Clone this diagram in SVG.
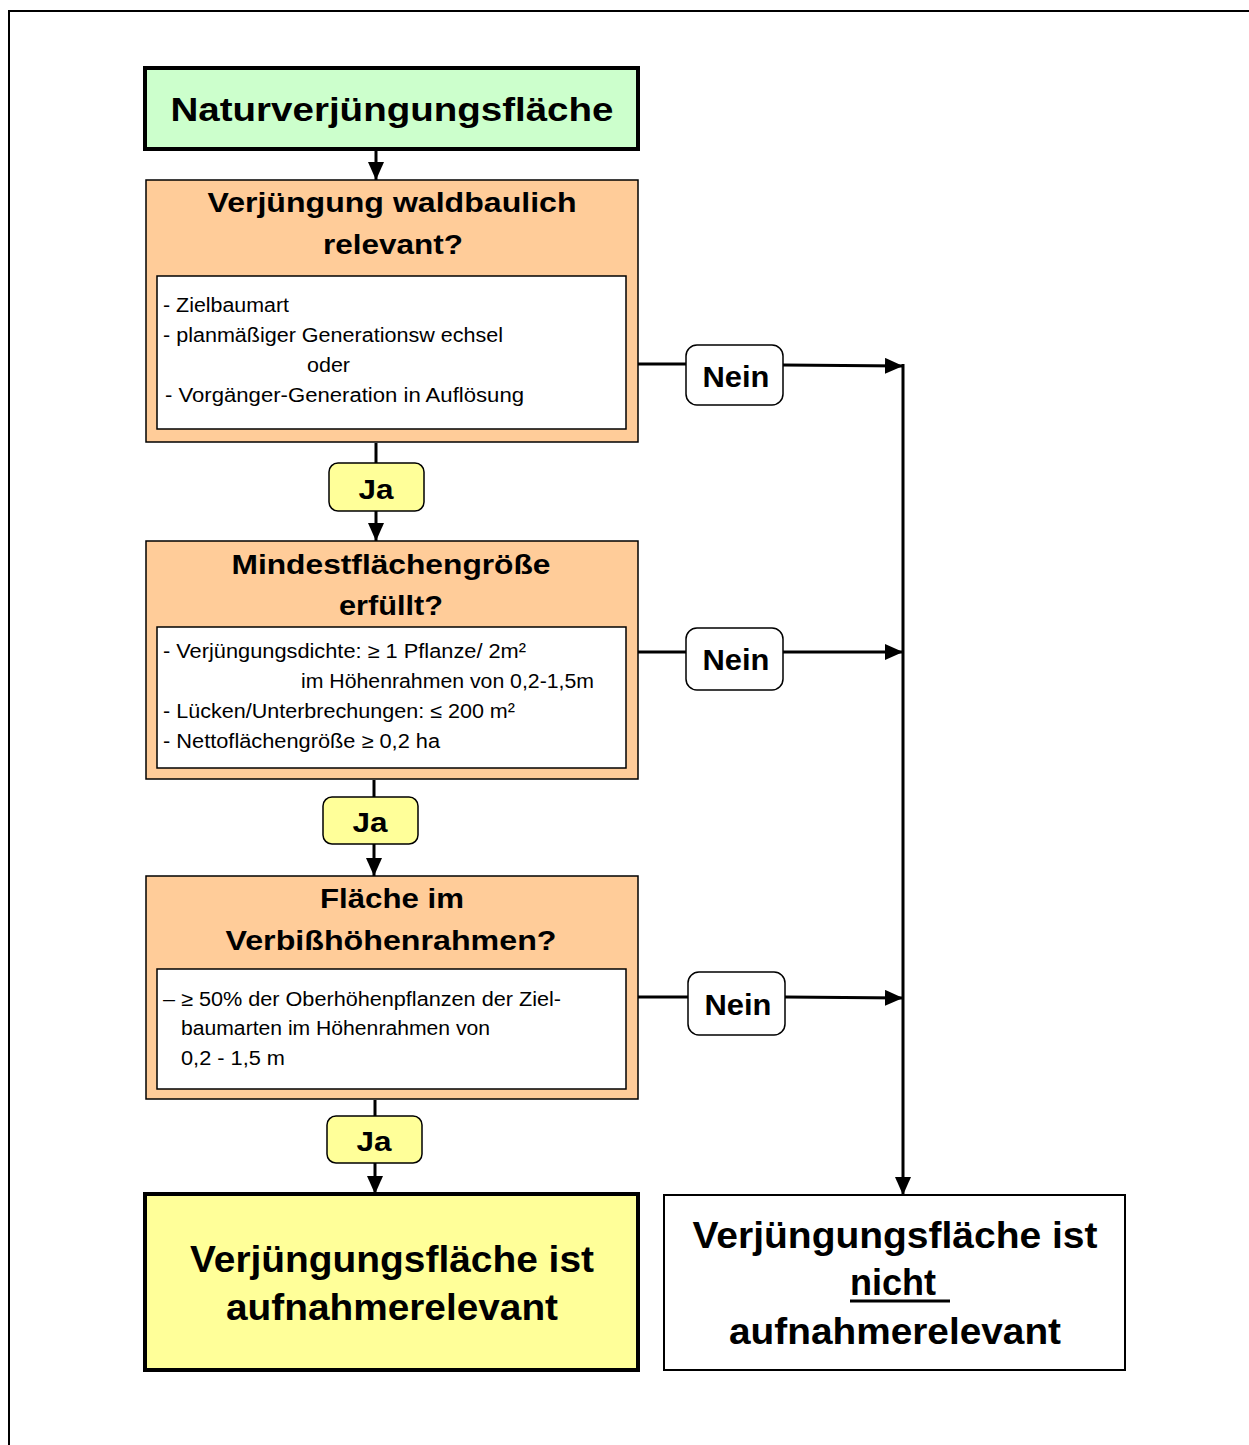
<svg xmlns="http://www.w3.org/2000/svg" width="1249" height="1445" viewBox="0 0 1249 1445">
<defs>
<marker id="ah" markerUnits="userSpaceOnUse" markerWidth="18" markerHeight="16" viewBox="0 0 18 16" refX="18" refY="8" orient="auto"><path d="M0,0 L18,8 L0,16 Z" fill="#000"/></marker>
<style>
.b{font-family:"Liberation Sans",Arial,sans-serif;font-weight:bold;fill:#000;text-anchor:middle}
.r{font-family:"Liberation Sans",Arial,sans-serif;font-size:20px;fill:#000}
.or{fill:#FFCC99;stroke:#000;stroke-width:1.5}
.in{fill:#fff;stroke:#000;stroke-width:1.5}
.ja{fill:#FFFF99;stroke:#000;stroke-width:1.5}
.nein{fill:#fff;stroke:#000;stroke-width:1.5}
.ln{stroke:#000;stroke-width:3;fill:none}
</style>
</defs>
<rect width="1249" height="1445" fill="#fff"/>
<path d="M9,1445 V11 H1249" fill="none" stroke="#000" stroke-width="2"/>

<g id="connectors">
<line class="ln" x1="376" y1="150" x2="376" y2="180" marker-end="url(#ah)"/>
<line class="ln" x1="376" y1="443" x2="376" y2="541" marker-end="url(#ah)"/>
<line class="ln" x1="374" y1="780" x2="374" y2="876" marker-end="url(#ah)"/>
<line class="ln" x1="375" y1="1100" x2="375" y2="1194" marker-end="url(#ah)"/>
<line class="ln" x1="638" y1="364" x2="686" y2="364"/>
<line class="ln" x1="783" y1="365" x2="903" y2="366" marker-end="url(#ah)"/>
<line class="ln" x1="638" y1="652" x2="686" y2="652"/>
<line class="ln" x1="783" y1="652" x2="903" y2="652" marker-end="url(#ah)"/>
<line class="ln" x1="638" y1="997" x2="688" y2="997"/>
<line class="ln" x1="785" y1="997" x2="903" y2="998" marker-end="url(#ah)"/>
<line class="ln" x1="903" y1="364" x2="903" y2="1195" marker-end="url(#ah)"/>
</g>

<g id="start">
<rect x="145" y="68" width="493" height="81" fill="#CCFFCC" stroke="#000" stroke-width="4"/>
<text class="b" x="392" y="121" font-size="34" textLength="443" lengthAdjust="spacingAndGlyphs">Naturverjüngungsfläche</text>
</g>

<g id="q1">
<rect class="or" x="146" y="180" width="492" height="262"/>
<text class="b" x="392" y="212" font-size="28" textLength="369" lengthAdjust="spacingAndGlyphs">Verjüngung waldbaulich</text>
<text class="b" x="393" y="254" font-size="28" textLength="140" lengthAdjust="spacingAndGlyphs">relevant?</text>
<rect class="in" x="157" y="276" width="469" height="153"/>
<text class="r" x="163" y="312" textLength="126" lengthAdjust="spacingAndGlyphs">- Zielbaumart</text>
<text class="r" x="163" y="342" textLength="340" lengthAdjust="spacingAndGlyphs">- planmäßiger Generationsw echsel</text>
<text class="r" x="307" y="372" textLength="43" lengthAdjust="spacingAndGlyphs">oder</text>
<text class="r" x="165" y="402" textLength="359" lengthAdjust="spacingAndGlyphs">- Vorgänger-Generation in Auflösung</text>
</g>

<g id="ja1">
<rect class="ja" x="329" y="463" width="95" height="48" rx="9"/>
<text class="b" x="376" y="499" font-size="28" textLength="35" lengthAdjust="spacingAndGlyphs">Ja</text>
</g>

<g id="q2">
<rect class="or" x="146" y="541" width="492" height="238"/>
<text class="b" x="391" y="574" font-size="28" textLength="319" lengthAdjust="spacingAndGlyphs">Mindestflächengröße</text>
<text class="b" x="391" y="615" font-size="28" textLength="104" lengthAdjust="spacingAndGlyphs">erfüllt?</text>
<rect class="in" x="157" y="627" width="469" height="141"/>
<text class="r" x="163" y="658" textLength="363" lengthAdjust="spacingAndGlyphs">- Verjüngungsdichte: ≥ 1 Pflanze/ 2m²</text>
<text class="r" x="301" y="688" textLength="293" lengthAdjust="spacingAndGlyphs">im Höhenrahmen von 0,2-1,5m</text>
<text class="r" x="163" y="718" textLength="352" lengthAdjust="spacingAndGlyphs">- Lücken/Unterbrechungen: ≤ 200 m²</text>
<text class="r" x="163" y="748" textLength="277" lengthAdjust="spacingAndGlyphs">- Nettoflächengröße ≥ 0,2 ha</text>
</g>

<g id="ja2">
<rect class="ja" x="323" y="797" width="95" height="47" rx="9"/>
<text class="b" x="370" y="832" font-size="28" textLength="35" lengthAdjust="spacingAndGlyphs">Ja</text>
</g>

<g id="q3">
<rect class="or" x="146" y="876" width="492" height="223"/>
<text class="b" x="392" y="908" font-size="28" textLength="144" lengthAdjust="spacingAndGlyphs">Fläche im</text>
<text class="b" x="391" y="950" font-size="28" textLength="331" lengthAdjust="spacingAndGlyphs">Verbißhöhenrahmen?</text>
<rect class="in" x="157" y="969" width="469" height="120"/>
<text class="r" x="163" y="1006" textLength="398" lengthAdjust="spacingAndGlyphs">– ≥ 50% der Oberhöhenpflanzen der Ziel-</text>
<text class="r" x="181" y="1035" textLength="309" lengthAdjust="spacingAndGlyphs">baumarten im Höhenrahmen von</text>
<text class="r" x="181" y="1065" textLength="104" lengthAdjust="spacingAndGlyphs">0,2 - 1,5 m</text>
</g>

<g id="ja3">
<rect class="ja" x="327" y="1116" width="95" height="47" rx="9"/>
<text class="b" x="374" y="1151" font-size="28" textLength="35" lengthAdjust="spacingAndGlyphs">Ja</text>
</g>

<g id="nein1">
<rect class="nein" x="686" y="345" width="97" height="60" rx="11"/>
<text class="b" x="736" y="387" font-size="30" textLength="67" lengthAdjust="spacingAndGlyphs">Nein</text>
</g>
<g id="nein2">
<rect class="nein" x="686" y="628" width="97" height="62" rx="11"/>
<text class="b" x="736" y="670" font-size="30" textLength="67" lengthAdjust="spacingAndGlyphs">Nein</text>
</g>
<g id="nein3">
<rect class="nein" x="688" y="972" width="97" height="63" rx="11"/>
<text class="b" x="738" y="1015" font-size="30" textLength="67" lengthAdjust="spacingAndGlyphs">Nein</text>
</g>

<g id="result-yes">
<rect x="145" y="1194" width="493" height="176" fill="#FFFF99" stroke="#000" stroke-width="4"/>
<text class="b" x="392" y="1272" font-size="36" textLength="404" lengthAdjust="spacingAndGlyphs">Verjüngungsfläche ist</text>
<text class="b" x="392" y="1320" font-size="36" textLength="332" lengthAdjust="spacingAndGlyphs">aufnahmerelevant</text>
</g>

<g id="result-no">
<rect x="664" y="1195" width="461" height="175" fill="#fff" stroke="#000" stroke-width="2"/>
<text class="b" x="895" y="1248" font-size="36" textLength="405" lengthAdjust="spacingAndGlyphs">Verjüngungsfläche ist</text>
<text class="b" x="850" y="1295" font-size="36" style="text-anchor:start">nicht </text>
<line x1="850" y1="1301" x2="950" y2="1301" stroke="#000" stroke-width="3"/>
<text class="b" x="895" y="1344" font-size="36" textLength="332" lengthAdjust="spacingAndGlyphs">aufnahmerelevant</text>
</g>
</svg>
